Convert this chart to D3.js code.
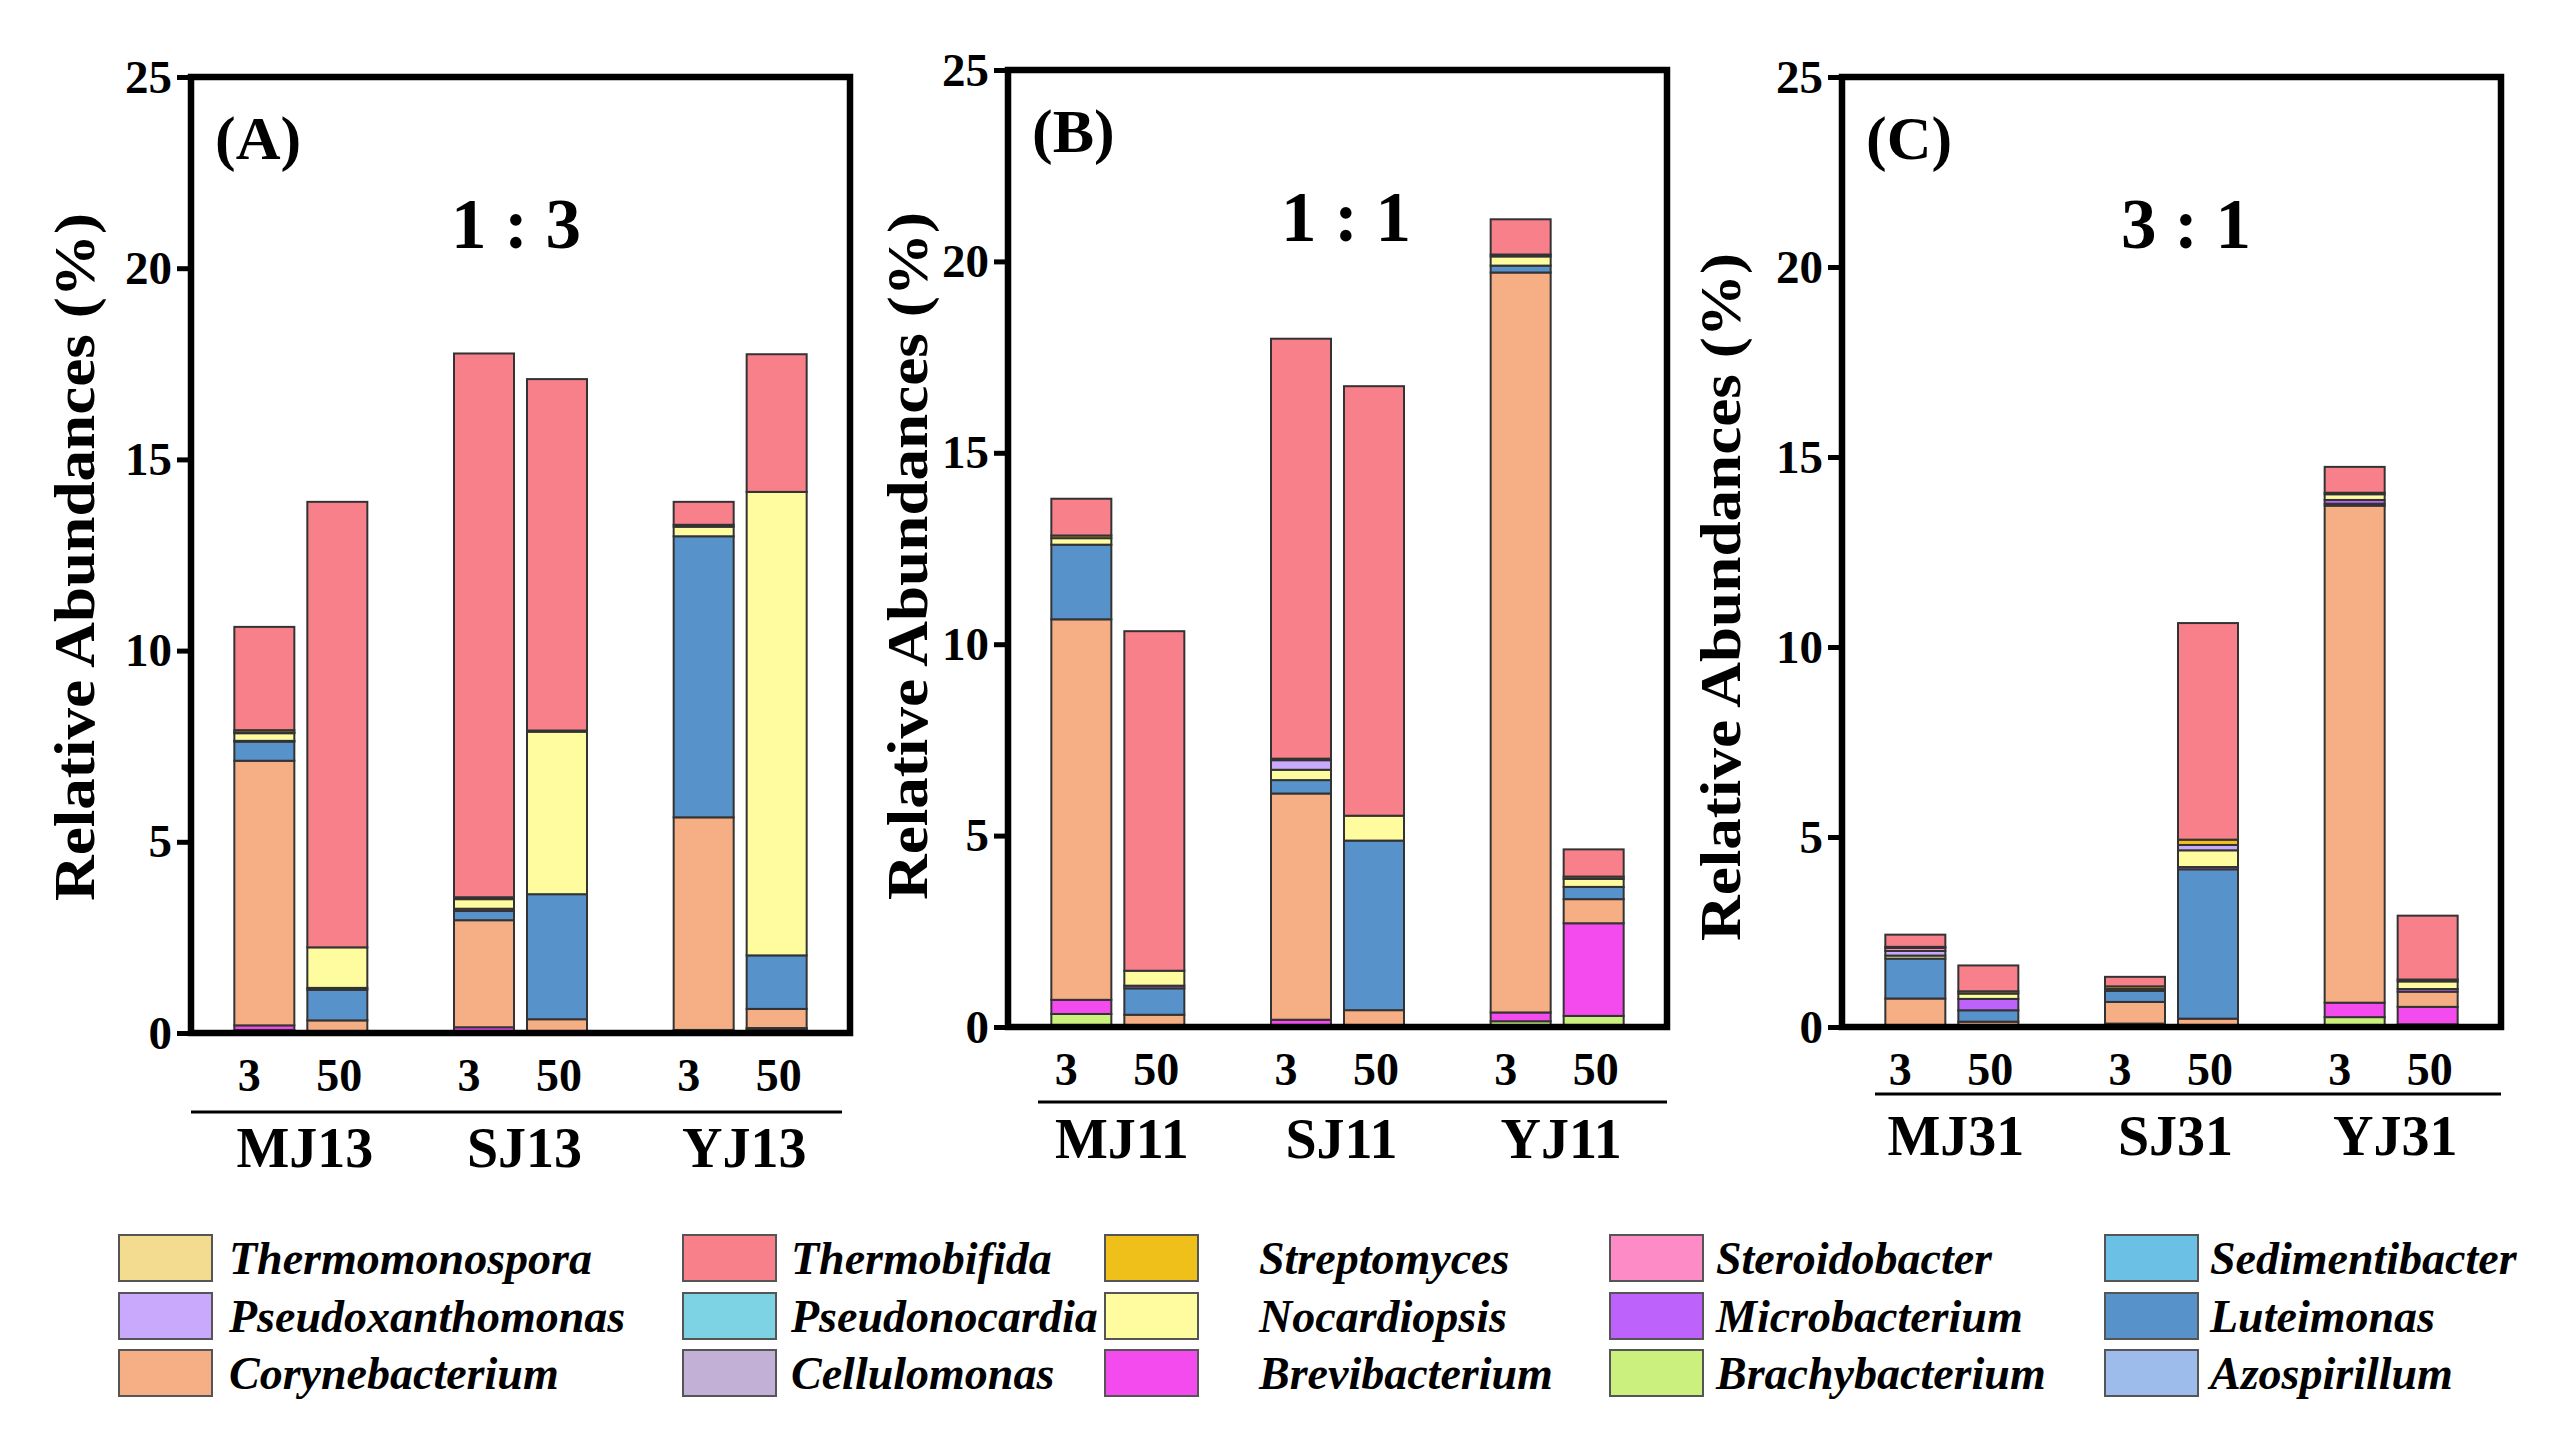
<!DOCTYPE html>
<html>
<head>
<meta charset="utf-8">
<script src="https://cdn.jsdelivr.net/npm/d3@7"></script>
<style>
  html, body { margin: 0; padding: 0; background: #fff; }
  svg { display: block; }
</style>
</head>
<body>
<svg id="chart" width="2563" height="1441"></svg>
<script>
// genera in stacking order (bottom -> top)
const genera = ["Azospirillum", "Brachybacterium", "Brevibacterium", "Cellulomonas", "Corynebacterium",
  "Luteimonas", "Microbacterium", "Nocardiopsis", "Pseudonocardia", "Pseudoxanthomonas",
  "Sedimentibacter", "Steroidobacter", "Streptomyces", "Thermobifida", "Thermomonospora"];
const genusColors = ["#9dbcec", "#ccf07e", "#f44bef", "#c2b0d6", "#f6af84",
  "#5792cb", "#bd62fa", "#fffca0", "#7dd3e3", "#c9a9fb",
  "#6bc1e5", "#fd8bc6", "#efc01a", "#f8808a", "#f3dc90"];

const depths = ["3", "50"];
const yTicks = [0, 5, 10, 15, 20, 25];

// panel A (1 : 3)
const sitesA = ["MJ13", "SJ13", "YJ13"];
const valuesA = [ // rows: MJ13-3, MJ13-50, SJ13-3, SJ13-50, YJ13-3, YJ13-50 ; columns follow `genera`
  [0, 0.08, 0.12, 0, 6.92, 0.5, 0.02, 0.2, 0, 0, 0.02, 0, 0.06, 2.7, 0],
  [0, 0, 0, 0, 0.33, 0.8, 0.05, 1.06, 0, 0, 0, 0, 0, 11.65, 0],
  [0, 0, 0.15, 0, 2.8, 0.24, 0.06, 0.25, 0, 0, 0, 0, 0.05, 14.22, 0],
  [0, 0, 0, 0, 0.36, 3.27, 0, 4.25, 0, 0, 0, 0, 0.03, 9.19, 0],
  [0, 0, 0.08, 0, 5.56, 7.35, 0, 0.25, 0, 0, 0, 0, 0.05, 0.6, 0],
  [0, 0, 0.1, 0.03, 0.5, 1.4, 0, 12.12, 0, 0, 0, 0, 0, 3.6, 0]
];

// panel B (1 : 1)
const sitesB = ["MJ11", "SJ11", "YJ11"];
const valuesB = [
  [0, 0.34, 0.37, 0, 9.94, 1.95, 0, 0.17, 0, 0, 0, 0, 0.07, 0.96, 0],
  [0, 0, 0, 0, 0.32, 0.69, 0.07, 0.39, 0, 0, 0, 0, 0, 8.87, 0],
  [0, 0.05, 0.14, 0, 5.91, 0.35, 0, 0.27, 0, 0.25, 0, 0, 0.04, 10.97, 0],
  [0, 0, 0, 0, 0.44, 4.43, 0, 0.65, 0, 0, 0, 0, 0, 11.22, 0],
  [0, 0.15, 0.23, 0, 19.33, 0.18, 0, 0.24, 0, 0, 0, 0, 0.05, 0.92, 0],
  [0, 0.29, 2.42, 0, 0.63, 0.32, 0, 0.21, 0, 0, 0, 0, 0.06, 0.71, 0]
];

// panel C (3 : 1)
const sitesC = ["MJ31", "SJ31", "YJ31"];
const valuesC = [
  [0, 0, 0, 0, 0.75, 1.05, 0, 0.08, 0, 0.12, 0, 0.08, 0.03, 0.32, 0],
  [0.04, 0, 0, 0, 0.1, 0.3, 0.3, 0.14, 0, 0, 0, 0, 0.06, 0.68, 0],
  [0, 0, 0.09, 0, 0.57, 0.29, 0.05, 0, 0, 0, 0, 0, 0.07, 0.25, 0],
  [0, 0, 0, 0, 0.22, 3.93, 0.06, 0.44, 0, 0.14, 0, 0, 0.14, 5.7, 0],
  [0, 0.26, 0.38, 0, 13.08, 0.05, 0.1, 0.15, 0, 0, 0, 0, 0.04, 0.68, 0],
  [0, 0.07, 0.46, 0, 0.4, 0, 0.07, 0.2, 0, 0, 0, 0, 0.05, 1.68, 0]
];

const panels = [
  {tag: "(A)", ratio: "1 : 3", sites: sitesA, values: valuesA, ratioX: 516,
   left: 191, right: 850, top: 77, bottom: 1033, titleX: 74, titleY: 557, lineDy: 79, lineX0: 0, lineX1: -8, nameDy: 134},
  {tag: "(B)", ratio: "1 : 1", sites: sitesB, values: valuesB, ratioX: 1346,
   left: 1008, right: 1667, top: 70, bottom: 1027, titleX: 907, titleY: 556, lineDy: 75, lineX0: 30, lineX1: 0, nameDy: 131},
  {tag: "(C)", ratio: "3 : 1", sites: sitesC, values: valuesC, ratioX: 2186,
   left: 1842, right: 2501, top: 77, bottom: 1027, titleX: 1720, titleY: 597, lineDy: 67, lineX0: 33, lineX1: 0, nameDy: 128}
];

const serif = "'Liberation Serif', 'Times New Roman', serif";
const color = d3.scaleOrdinal().domain(genera).range(genusColors);
const svg = d3.select("#chart");

panels.forEach(p => {
  const g = svg.append("g");
  const w = p.right - p.left;

  const x = d3.scaleBand().domain(p.sites).range([p.left, p.right]);
  const xIn = d3.scaleBand().domain(depths).range([-66.5, 66.5]).paddingInner(0.178);
  const y = d3.scaleLinear().domain([0, 25]).range([p.bottom, p.top]);

  // table of samples -> stacked
  const rows = [];
  p.sites.forEach((s, i) => depths.forEach((d, j) => {
    const r = {site: s, depth: d};
    genera.forEach((gn, k) => r[gn] = p.values[i * 2 + j][k]);
    rows.push(r);
  }));
  const series = d3.stack().keys(genera)(rows);

  const cx = d => x(d.data.site) + x.bandwidth() / 2 + xIn(d.data.depth);

  g.selectAll("g.layer")
    .data(series)
    .enter().append("g")
    .attr("class", "layer")
    .attr("fill", s => color(s.key))
    .selectAll("rect")
    .data(s => s.filter(d => d[1] - d[0] > 0))
    .enter().append("rect")
    .attr("x", cx)
    .attr("width", xIn.bandwidth())
    .attr("y", d => y(d[1]))
    .attr("height", d => y(d[0]) - y(d[1]))
    .attr("stroke", "#333")
    .attr("stroke-width", 2);

  // frame
  g.append("rect")
    .attr("x", p.left).attr("y", p.top)
    .attr("width", w).attr("height", p.bottom - p.top)
    .attr("fill", "none").attr("stroke", "#000").attr("stroke-width", 6.5);

  // y axis
  const ax = g.append("g")
    .attr("transform", `translate(${p.left},0)`)
    .call(d3.axisLeft(y).tickValues(yTicks).tickSize(14).tickPadding(5));
  ax.select(".domain").remove();
  ax.selectAll(".tick line").attr("stroke", "#000").attr("stroke-width", 5);
  ax.selectAll(".tick text")
    .attr("fill", "#000")
    .style("font-family", serif).style("font-weight", "bold").style("font-size", "47px");

  // y title
  g.append("text")
    .attr("transform", `translate(${p.titleX},${p.titleY}) rotate(-90)`)
    .attr("text-anchor", "middle")
    .attr("dy", "0.35em")
    .attr("textLength", 688).attr("lengthAdjust", "spacingAndGlyphs")
    .style("font-family", serif).style("font-weight", "bold").style("font-size", "58px")
    .text("Relative Abundances (%)");

  // panel tag and ratio
  g.append("text")
    .attr("x", p.left + 24).attr("y", p.top + 82)
    .style("font-family", serif).style("font-weight", "bold").style("font-size", "62px")
    .text(p.tag);
  g.append("text")
    .attr("x", p.ratioX).attr("y", p.top + 171)
    .attr("text-anchor", "middle")
    .style("font-family", serif).style("font-weight", "bold").style("font-size", "71px")
    .text(p.ratio);

  // depth labels
  const depthOffset = {"3": -15, "50": 2};
  p.sites.forEach(s => depths.forEach(d => {
    g.append("text")
      .attr("x", x(s) + x.bandwidth() / 2 + xIn(d) + xIn.bandwidth() / 2 + depthOffset[d])
      .attr("y", p.bottom + 58)
      .attr("text-anchor", "middle")
      .style("font-family", serif).style("font-weight", "bold").style("font-size", "46px")
      .text(d);
  }));

  // group underline and site names
  g.append("line")
    .attr("x1", p.left + p.lineX0).attr("x2", p.right + p.lineX1)
    .attr("y1", p.bottom + p.lineDy).attr("y2", p.bottom + p.lineDy)
    .attr("stroke", "#000").attr("stroke-width", 3);
  g.selectAll("text.site")
    .data(p.sites)
    .enter().append("text")
    .attr("class", "site")
    .attr("x", s => x(s) + x.bandwidth() / 2 + 4)
    .attr("y", p.bottom + p.nameDy)
    .attr("text-anchor", "middle")
    .style("font-family", serif).style("font-weight", "bold").style("font-size", "56px")
    .text(s => s);
});

// legend: reverse alphabetical, row-major, 5 columns
const legendOrder = genera.slice().reverse();
const swatchX = [119, 683, 1105, 1610, 2105];
const labelX = [229, 791, 1259, 1716, 2210];
const rowY = [1258, 1316, 1373];

const legend = svg.append("g");
legendOrder.forEach((gn, i) => {
  const c = i % 5, r = Math.floor(i / 5);
  legend.append("rect")
    .attr("x", swatchX[c]).attr("y", rowY[r] - 23)
    .attr("width", 93).attr("height", 46)
    .attr("fill", color(gn))
    .attr("stroke", "#555").attr("stroke-width", 2);
  legend.append("text")
    .attr("x", labelX[c]).attr("y", rowY[r])
    .attr("dy", "0.35em")
    .style("font-family", serif).style("font-weight", "bold").style("font-style", "italic")
    .style("font-size", "46px")
    .text(gn);
});
</script>
</body>
</html>
